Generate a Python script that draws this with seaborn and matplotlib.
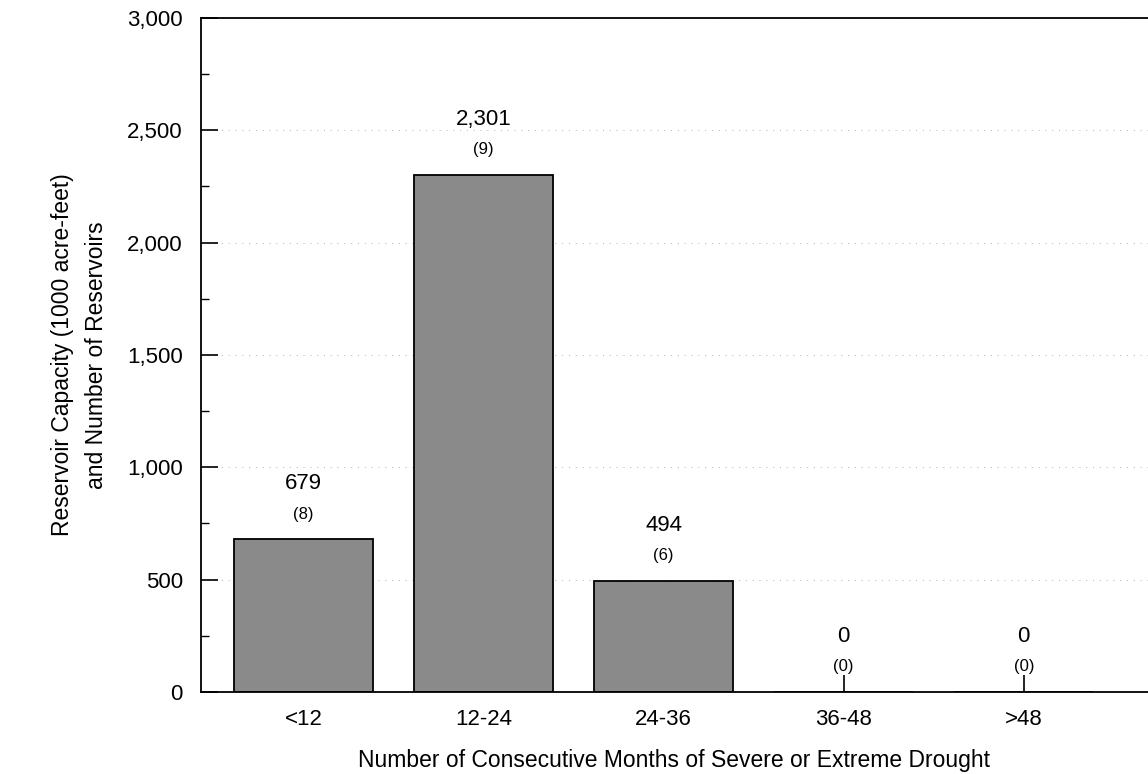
import matplotlib
matplotlib.use("Agg")
import matplotlib.pyplot as plt
import seaborn as sns
import pandas as pd
from matplotlib.ticker import MultipleLocator, FuncFormatter

categories = ["<12", "12-24", "24-36", "36-48", ">48"]
capacity = [679, 2301, 494, 0, 0]
counts = [8, 9, 6, 0, 0]

df = pd.DataFrame({"cat": categories, "cap": capacity})

sns.set_style("white")
plt.rcParams["font.family"] = ["Liberation Sans", "DejaVu Sans"]
plt.rcParams["text.color"] = "black"
plt.rcParams["axes.labelcolor"] = "black"
plt.rcParams["xtick.color"] = "black"
plt.rcParams["ytick.color"] = "black"

fig = plt.figure(figsize=(11.48, 7.74), dpi=100)
ax = fig.add_axes([0.175, 0.106, 0.825, 0.871])

sns.barplot(data=df, x="cat", y="cap", color="#8a8a8a", saturation=1,
            edgecolor="black", linewidth=1.3, width=0.77, ax=ax)

ax.set_ylim(0, 3000)
ax.set_xlim(-0.57, 4.69)
ax.yaxis.set_major_locator(MultipleLocator(500))
ax.yaxis.set_minor_locator(MultipleLocator(250))
ax.yaxis.set_major_formatter(FuncFormatter(lambda v, p: f"{int(v):,}"))

ax.grid(axis="y", which="major", linestyle=(0, (1, 6)), color="#b0b0b0", linewidth=0.7)
ax.set_axisbelow(True)

ax.tick_params(axis="y", which="major", direction="in", length=12, width=1.2,
               labelsize=16, pad=13, left=True)
ax.tick_params(axis="y", which="minor", direction="in", length=6, width=1, left=True)
ax.tick_params(axis="x", which="major", direction="in", length=12, width=1.2,
               labelsize=16, pad=12, bottom=True)

for s in ["left", "bottom", "top"]:
    ax.spines[s].set_visible(True)
    ax.spines[s].set_color("black")
    ax.spines[s].set_linewidth(1.3)
ax.spines["right"].set_visible(False)

for i, (v, c) in enumerate(zip(capacity, counts)):
    ax.annotate(f"({c})", (i, v), xytext=(0, 18), textcoords="offset points",
                ha="center", va="center", fontsize=12)
    ax.annotate(f"{v:,}", (i, v), xytext=(0, 40), textcoords="offset points",
                ha="center", va="center", fontsize=16)

ax.set_xlabel("Number of Consecutive Months of Severe or Extreme Drought",
              fontsize=16.5, labelpad=14)
ax.set_ylabel("Reservoir Capacity (1000 acre-feet)\nand Number of Reservoirs",
              fontsize=16.5, labelpad=14, linespacing=1.6)

fig.savefig("out.png", dpi=100)
